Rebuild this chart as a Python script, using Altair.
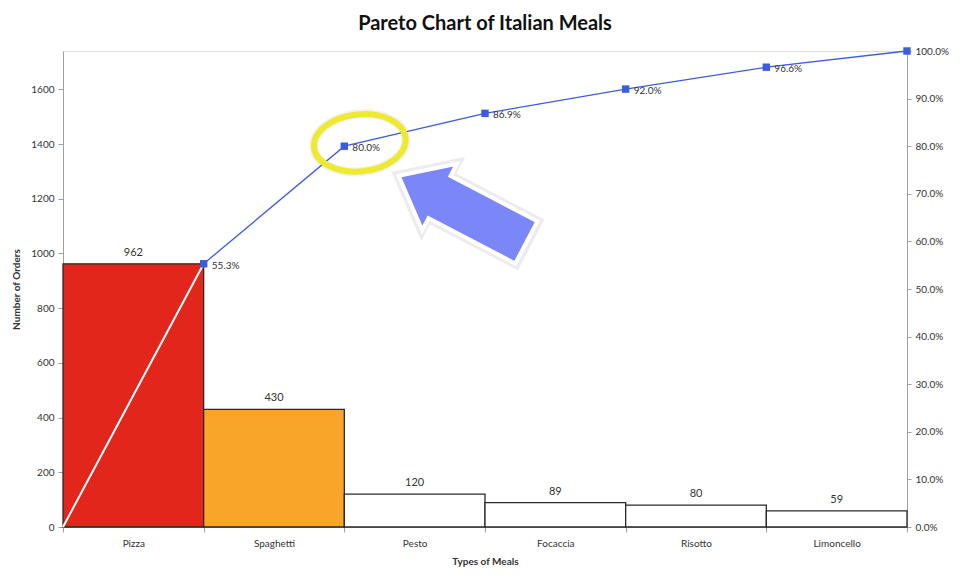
import json
import altair as alt
import pandas as pd

# ---------------- data ----------------
categories = ["Pizza", "Spaghetti", "Pesto", "Focaccia", "Risotto", "Limoncello"]
orders = [962, 430, 120, 89, 80, 59]
cum_pct = [55.3, 80.0, 86.9, 92.0, 96.6, 100.0]
bar_fill = ["#e2261b", "#f9a52a", "#ffffff", "#ffffff", "#ffffff", "#ffffff"]
pct_labels = ["55.3%", "80.0%", "86.9%", "92.0%", "96.6%", ""]
y_ticks = [0, 200, 400, 600, 800, 1000, 1200, 1400, 1600]
pct_ticks = [0, 0.1, 0.2, 0.3, 0.4, 0.5, 0.6, 0.7, 0.8, 0.9, 1.0]
# annotations (data coordinates: bar index / cumulative share)
highlight_x, highlight_y = [2.11], [0.807]
arrow_x, arrow_y = [2.84], [0.668]

total = sum(orders)

bars_df = pd.DataFrame({
    "cat": categories,
    "start": list(range(len(categories))),
    "end": [i + 1 for i in range(len(categories))],
    "mid": [i + 0.5 for i in range(len(categories))],
    "orders": orders,
    "fill": bar_fill,
})
cum_df = pd.DataFrame({
    "pos": [i + 1 for i in range(len(categories))],
    "cum": [v / 100 for v in cum_pct],
    "label": pct_labels,
})
white_df = pd.DataFrame({"pos": [0, 1], "cum": [0, cum_pct[0] / 100]})
hl_df = pd.DataFrame({"x": highlight_x, "y": highlight_y})
arrow_df = pd.DataFrame({"x": arrow_x, "y": arrow_y})

FONT = "Lato"
TXT = "#333333"
AX = "#a0a0a0"

label_expr = ("(datum.value % 1) === 0.5 ? " + json.dumps(categories)
              + "[floor(datum.value)] : ''")
x_values = [i * 0.5 for i in range(2 * len(categories) + 1)]

x_axis = alt.Axis(
    values=x_values, labelExpr=label_expr, title="Types of Meals",
    grid=False, labelOverlap=False, labelFlush=False,
    tickOpacity=alt.condition("(datum.value % 1) === 0", alt.value(1), alt.value(0)),
    tickSize=5, tickColor=AX, domainColor=AX, labelPadding=6,
    labelFont=FONT, labelFontSize=10, labelColor=TXT,
    titleFont=FONT, titleFontSize=10, titleFontWeight="bold", titleColor=TXT,
    titlePadding=8,
)
x_scale = alt.Scale(domain=[0, len(categories)], nice=False, zero=False)

def X(field):
    return alt.X(f"{field}:Q", scale=x_scale, axis=x_axis)

y_left = alt.Y(
    "orders:Q",
    scale=alt.Scale(domain=[0, total], nice=False),
    axis=alt.Axis(values=y_ticks, format="d", title="Number of Orders", orient="left",
                  grid=False, tickSize=5, tickColor=AX, domainColor=AX, labelPadding=4,
                  labelFont=FONT, labelFontSize=10, labelColor=TXT,
                  titleFont=FONT, titleFontSize=10, titleFontWeight="bold",
                  titleColor=TXT, titlePadding=9),
)

def Yr(field):
    return alt.Y(
        f"{field}:Q",
        scale=alt.Scale(domain=[0, 1], nice=False),
        axis=alt.Axis(values=pct_ticks, format=".1%", orient="right", title=None,
                      grid=False, tickSize=4, tickColor=AX, domainColor=AX,
                      labelPadding=4, labelFont=FONT, labelFontSize=10,
                      labelColor=TXT),
    )

bars = alt.Chart(bars_df).mark_rect(stroke="#2a2a2a", strokeWidth=1.3).encode(
    x=X("start"), x2="end:Q",
    y=y_left, y2=alt.datum(0),
    fill=alt.Fill("fill:N", scale=None),
)
bar_text = alt.Chart(bars_df).mark_text(
    font=FONT, fontSize=11, color=TXT, dy=-11
).encode(x=X("mid"), y=y_left, text="orders:Q")

left = alt.layer(bars, bar_text)

white_line = alt.Chart(white_df).mark_line(color="white", strokeWidth=2).encode(
    x=X("pos"), y=Yr("cum"))
blue_line = alt.Chart(cum_df).mark_line(color="#3b5ce0", strokeWidth=1.3).encode(
    x=X("pos"), y=Yr("cum"))
pts = alt.Chart(cum_df).mark_point(
    shape="square", filled=True, color="#3b5ce0", size=55, opacity=1
).encode(x=X("pos"), y=Yr("cum"))
pct_text = alt.Chart(cum_df).mark_text(
    font=FONT, fontSize=10, color=TXT, align="left", dx=8, dy=2
).encode(x=X("pos"), y=Yr("cum"), text="label:N")

ellipse_path = "M -1 0 A 1 0.62 0 1 1 1 0 A 1 0.62 0 1 1 -1 0 Z"
ellipse_shadow = alt.Chart(hl_df).mark_point(
    shape=ellipse_path, filled=False, stroke="#999999", strokeWidth=9,
    strokeOpacity=0.18, size=8600, angle=354
).encode(x=X("x"), y=Yr("y"))
ellipse = alt.Chart(hl_df).mark_point(
    shape=ellipse_path, filled=False, stroke="#eeea30", strokeWidth=6,
    opacity=1, size=8464, angle=354
).encode(x=X("x"), y=Yr("y"))

arrow_path = ("M -1 -0.33 L 0.36 -0.33 L 0.36 -0.52 L 1 0 L 0.36 0.52 "
              "L 0.36 0.33 L -1 0.33 Z")
arrow_shadow = alt.Chart(arrow_df).mark_point(
    shape=arrow_path, filled=True, fill="#808080", fillOpacity=0.2,
    stroke="#808080", strokeWidth=9, strokeOpacity=0.15, size=21300, angle=207.6
).encode(x=X("x"), y=Yr("y"))
arrow = alt.Chart(arrow_df).mark_point(
    shape=arrow_path, filled=True, fill="#7b86f8", fillOpacity=1,
    stroke="white", strokeWidth=4, strokeOpacity=1, size=20736, angle=207.6
).encode(x=X("x"), y=Yr("y"))

right = alt.layer(white_line, blue_line, pts, pct_text,
                  ellipse_shadow, ellipse, arrow_shadow, arrow)

chart = alt.layer(left, right).resolve_scale(y="independent").properties(
    width=844, height=476,
    padding={"left": 3, "top": 6, "right": 5, "bottom": 5},
    title=alt.Title("Pareto Chart of Italian Meals", font=FONT, fontSize=20,
                    fontWeight="bold", color="#111111", offset=12),
).configure_view(stroke="#bdbdbd", strokeWidth=1).configure(background="white")

chart.save("out.html", embed_options={"renderer": "svg", "actions": False})
